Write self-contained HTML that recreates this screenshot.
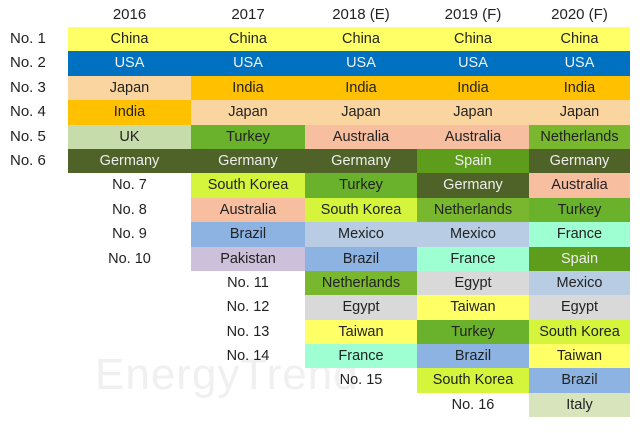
<!DOCTYPE html>
<html><head><meta charset="utf-8"><style>
body{margin:0;width:640px;height:433px;background:#fff;position:relative;overflow:hidden;font-family:"Liberation Sans",sans-serif;font-size:14.5px;color:#222}
.c{position:absolute;display:flex;flex-direction:column}
.c div{height:24.4px;line-height:24.4px;text-align:center;white-space:nowrap}
.h{position:absolute;top:6px;font-size:15px;text-align:center}
.Y{background:#ffff66}.U{background:#0070c0;color:#f2f2f2}.O{background:#ffc000}.J{background:#fbd59f}
.UK{background:#c6dcab}.T{background:#6ab12c}.G{background:#4f6228;color:#eee}.K{background:#d4f53c}
.A{background:#f8bea0}.B{background:#8db3e2}.M{background:#b8cce4}.P{background:#ccc0da}
.N{background:#78b72e}.E{background:#d9d9d9}.F{background:#9effd2}.S{background:#5e9c1c;color:#eee}.I{background:#d8e4bc}
.wm{position:absolute;left:95px;top:350px;font-size:44px;color:#f0f0f0;letter-spacing:1px}
.l{text-align:left!important;padding-left:10px;font-size:15px}
</style></head><body>
<div class="wm">EnergyTrend</div>
<div class="h" style="left:68px;width:123px">2016</div>
<div class="h" style="left:191px;width:114px">2017</div>
<div class="h" style="left:305px;width:112px">2018 (E)</div>
<div class="h" style="left:417px;width:112px">2019 (F)</div>
<div class="h" style="left:529px;width:101px">2020 (F)</div>
<div class="c" style="left:0;top:27px;width:68px">
<div class="l">No. 1</div><div class="l">No. 2</div><div class="l">No. 3</div><div class="l">No. 4</div><div class="l">No. 5</div><div class="l">No. 6</div></div>
<div class="c" style="left:68px;top:27px;width:123px">
<div class="Y">China</div><div class="U">USA</div><div class="J">Japan</div><div class="O">India</div><div class="UK">UK</div><div class="G">Germany</div>
<div>No. 7</div><div>No. 8</div><div>No. 9</div><div>No. 10</div></div>
<div class="c" style="left:191px;top:27px;width:114px">
<div class="Y">China</div><div class="U">USA</div><div class="O">India</div><div class="J">Japan</div><div class="T">Turkey</div><div class="G">Germany</div>
<div class="K">South Korea</div><div class="A">Australia</div><div class="B">Brazil</div><div class="P">Pakistan</div>
<div>No. 11</div><div>No. 12</div><div>No. 13</div><div>No. 14</div></div>
<div class="c" style="left:305px;top:27px;width:112px">
<div class="Y">China</div><div class="U">USA</div><div class="O">India</div><div class="J">Japan</div><div class="A">Australia</div><div class="G">Germany</div>
<div class="T">Turkey</div><div class="K">South Korea</div><div class="M">Mexico</div><div class="B">Brazil</div>
<div class="N">Netherlands</div><div class="E">Egypt</div><div class="Y">Taiwan</div><div class="F">France</div><div>No. 15</div></div>
<div class="c" style="left:417px;top:27px;width:112px">
<div class="Y">China</div><div class="U">USA</div><div class="O">India</div><div class="J">Japan</div><div class="A">Australia</div><div class="S">Spain</div>
<div class="G">Germany</div><div class="N">Netherlands</div><div class="M">Mexico</div><div class="F">France</div>
<div class="E">Egypt</div><div class="Y">Taiwan</div><div class="T">Turkey</div><div class="B">Brazil</div><div class="K">South Korea</div><div>No. 16</div></div>
<div class="c" style="left:529px;top:27px;width:101px">
<div class="Y">China</div><div class="U">USA</div><div class="O">India</div><div class="J">Japan</div><div class="N">Netherlands</div><div class="G">Germany</div>
<div class="A">Australia</div><div class="T">Turkey</div><div class="F">France</div><div class="S">Spain</div>
<div class="M">Mexico</div><div class="E">Egypt</div><div class="K">South Korea</div><div class="Y">Taiwan</div><div class="B">Brazil</div><div class="I">Italy</div></div>
</body></html>
